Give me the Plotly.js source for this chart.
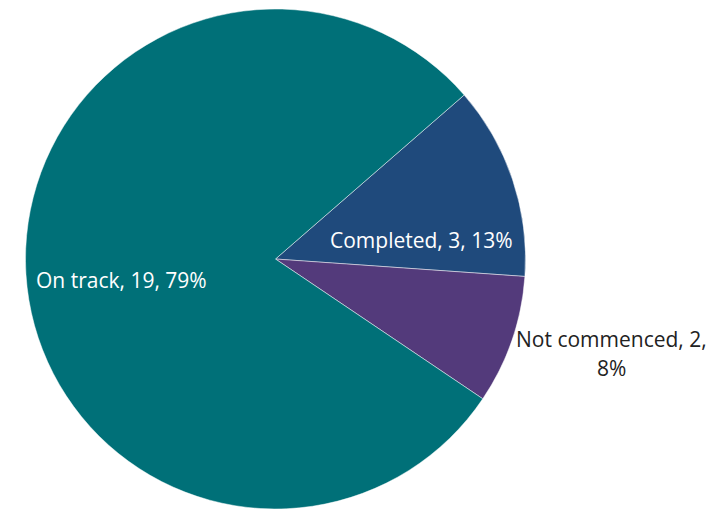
<!DOCTYPE html>
<html>
<head>
<meta charset="utf-8">
<script src="https://cdn.plot.ly/plotly-3.0.1.min.js"></script>
<style>html,body{margin:0;padding:0;background:#fff;overflow:hidden;}</style>
</head>
<body>
<div id="chart" style="width:726px;height:510px;"></div>
<script>
const categories = ["Completed", "Not commenced", "On track"];
const counts = [3, 2, 19];
const percents = [13, 8, 79];
const colors = ["#1F4A7C", "#533A7B", "#007078"];

const W = 726, H = 510;
const cx = 275.5, cy = 259, r = 250;

const trace = {
  type: "pie",
  labels: categories,
  values: counts,
  sort: false,
  direction: "clockwise",
  rotation: 49,
  textinfo: "none",
  hoverinfo: "label+value+percent",
  marker: {colors: colors, line: {color: "rgba(255,255,255,0.6)", width: 0.8}},
  domain: {x: [(cx - r) / W, (cx + r) / W], y: [(H - cy - r) / H, (H - cy + r) / H]},
  showlegend: false
};

function lbl(i) { return categories[i] + ", " + counts[i] + ", " + percents[i] + "%"; }
const font = {family: "Open Sans, Noto Sans, sans-serif", size: 21};

const annotations = [
  {text: lbl(0), x: 421 / W, y: 1 - 240 / H, font: Object.assign({color: "#FFFFFF"}, font)},
  {text: lbl(2), x: 121 / W, y: 1 - 280 / H, font: Object.assign({color: "#FFFFFF"}, font)},
  {text: categories[1] + ", " + counts[1] + ",", x: 611 / W, y: 1 - 339 / H, font: Object.assign({color: "#222222"}, font)},
  {text: percents[1] + "%", x: 611 / W, y: 1 - 368 / H, font: Object.assign({color: "#222222"}, font)}
].map(a => Object.assign({xref: "paper", yref: "paper", showarrow: false, xanchor: "center", yanchor: "middle"}, a));

Plotly.newPlot("chart", [trace], {
  width: W, height: H,
  margin: {l: 0, r: 0, t: 0, b: 0},
  paper_bgcolor: "#FFFFFF",
  annotations: annotations
}, {staticPlot: true});
</script>
</body>
</html>
